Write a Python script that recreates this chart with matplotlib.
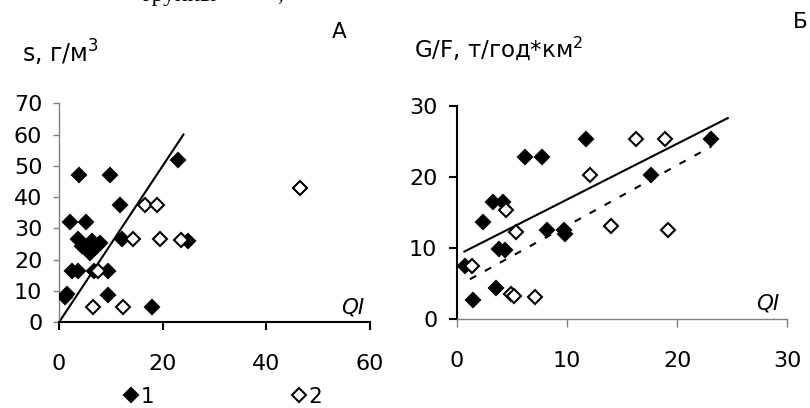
import matplotlib
matplotlib.use("Agg")
import matplotlib.pyplot as plt

plt.rcParams['font.family'] = ['DejaVu Sans']
plt.rcParams['mathtext.fontset'] = 'dejavusans'

# ---------------- data: panel A ----------------
a1_x = [3.9, 9.8, 23.0, 11.8, 2.1, 5.3, 3.7, 4.4, 6.3, 7.9, 6.0, 7.4, 12.1, 24.8,
        2.6, 3.6, 6.8, 9.5, 1.2, 1.6, 9.5, 17.9]
a1_y = [47, 47, 52, 37.5, 32, 32, 26.5, 24.5, 26, 25.5, 22, 24.5, 26.5, 26,
        16.5, 16.5, 16.5, 16.5, 8, 9, 8.8, 4.8]
a2_x = [46.5, 16.5, 18.9, 14.3, 19.5, 23.6, 6.5, 12.3, 7.6]
a2_y = [42.8, 37.5, 37.5, 26.5, 26.5, 26.3, 5, 5, 16.5]
a_line_x = [0, 24]
a_line_y = [0, 60]

# ---------------- data: panel B ----------------
b1_x = [11.7, 6.2, 7.7, 23.1, 17.6, 3.3, 4.2, 2.4, 8.2, 9.7, 9.8, 3.8, 4.4, 0.75, 1.5, 3.6]
b1_y = [25.4, 22.8, 22.8, 25.3, 20.3, 16.5, 16.5, 13.7, 12.5, 12.6, 12.0, 9.9, 9.7, 7.4, 2.7, 4.3]
b2_x = [16.3, 18.9, 12.1, 4.5, 5.4, 1.4, 4.9, 5.2, 7.1, 14.0, 19.2]
b2_y = [25.4, 25.4, 20.3, 15.4, 12.3, 7.4, 3.5, 3.3, 3.1, 13.1, 12.5]
b_solid_x = [0.7, 24.6]
b_solid_y = [9.5, 28.3]
b_dash_x = [1.2, 23.1]
b_dash_y = [5.6, 24.3]

a_xticks = [0, 20, 40, 60]
a_yticks = [0, 10, 20, 30, 40, 50, 60, 70]
b_xticks = [0, 10, 20, 30]
b_yticks = [0, 10, 20, 30]
legend_labels = ['1', '2']

W, H = 810, 408
fig = plt.figure(figsize=(W / 100, H / 100), dpi=100)

GRAY = '#808080'
FS = 16
MS = 6.8
MEW = 1.5


def fx(px):
    return px / W


def fy(py):
    return 1 - py / H


axA = fig.add_axes([fx(59), fy(322.3), fx(370) - fx(59), fy(103.3) - fy(322.3)])
axB = fig.add_axes([fx(456.7), fy(319), fx(787.3) - fx(456.7), fy(106) - fy(319)])

for ax in (axA, axB):
    ax.spines['top'].set_visible(False)
    ax.spines['right'].set_visible(False)
    ax.set_facecolor('none')

# Panel A
axA.plot(a_line_x, a_line_y, color='black', lw=1.5, zorder=2)
hA1, = axA.plot(a1_x, a1_y, linestyle='none', marker='D', ms=MS, mfc='black',
                mec='black', mew=MEW, zorder=3)
hA2, = axA.plot(a2_x, a2_y, linestyle='none', marker='D', ms=MS, mfc='white',
                mec='black', mew=MEW, zorder=4)
axA.set_xlim(0, 60)
axA.set_ylim(0, 70)
axA.set_xticks(a_xticks)
axA.set_yticks(a_yticks)
axA.spines['left'].set_color(GRAY)
axA.spines['left'].set_linewidth(1)
axA.spines['bottom'].set_color('black')
axA.spines['bottom'].set_linewidth(1.5)
axA.tick_params(axis='y', direction='out', length=4, width=1, color=GRAY,
                labelsize=FS, pad=8)
axA.tick_params(axis='x', direction='out', length=6, width=1.5, color='black',
                labelsize=FS, pad=17)

# Panel B
axB.plot(b_solid_x, b_solid_y, color='black', lw=1.5, zorder=2)
axB.plot(b_dash_x, b_dash_y, color='black', lw=1.5, linestyle=(0, (3.4, 4.8)), zorder=2)
axB.plot(b1_x, b1_y, linestyle='none', marker='D', ms=MS, mfc='black',
         mec='black', mew=MEW, zorder=3)
axB.plot(b2_x, b2_y, linestyle='none', marker='D', ms=MS, mfc='white',
         mec='black', mew=MEW, zorder=4)
axB.set_xlim(0, 30)
axB.set_ylim(0, 30)
axB.set_xticks(b_xticks)
axB.set_yticks(b_yticks)
axB.spines['left'].set_color('black')
axB.spines['left'].set_linewidth(1.5)
axB.spines['bottom'].set_color(GRAY)
axB.spines['bottom'].set_linewidth(1)
axB.tick_params(axis='y', direction='out', length=6, width=1.5, color='black',
                labelsize=FS, pad=8)
axB.tick_params(axis='x', direction='out', length=6, width=1, color=GRAY,
                labelsize=FS, pad=17)

# Texts
fig.text(fx(22), fy(63), 's, г/м$^{3}$', fontsize=17, va='baseline', ha='left')
fig.text(fx(414), fy(57), 'G/F, т/год*км$^{2}$', fontsize=16.5, va='baseline', ha='left')
fig.text(fx(339), fy(32), 'А', fontsize=15.5, va='center', ha='center')
fig.text(fx(800), fy(22), 'Б', fontsize=15.5, va='center', ha='center')
fig.text(fx(364), fy(308), 'QI', fontsize=15.5, style='italic', va='center', ha='right')
fig.text(fx(779), fy(303), 'QI', fontsize=15.5, style='italic', va='center', ha='right')
fig.text(fx(143), fy(0.5), 'группы', fontsize=17, family='Liberation Serif',
         va='baseline', ha='left')
fig.text(fx(277), fy(0.5), ',', fontsize=17, family='Liberation Serif',
         va='baseline', ha='left')

fig.legend([hA1, hA2], legend_labels, ncol=2, loc='center left',
           bbox_to_anchor=(fx(123), fy(397)), frameon=False, fontsize=15.5,
           handlelength=0.7, handletextpad=0.1, columnspacing=6.4,
           borderpad=0, borderaxespad=0, numpoints=1)

fig.savefig('out.png', dpi=100)
